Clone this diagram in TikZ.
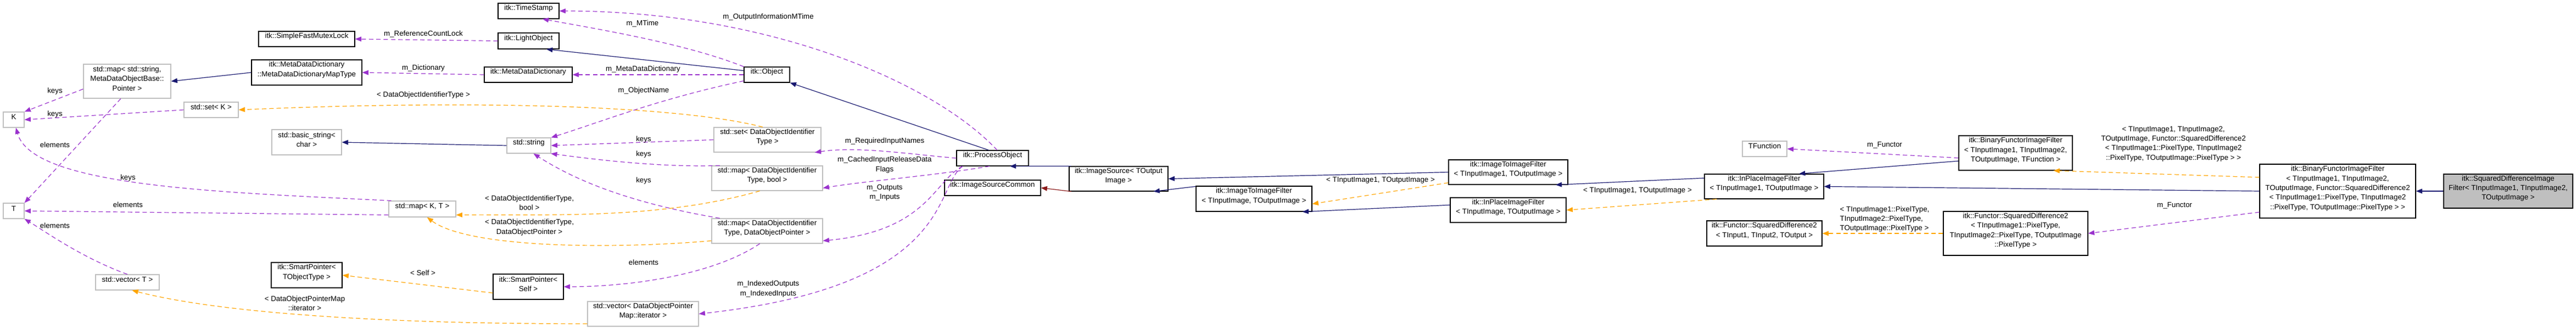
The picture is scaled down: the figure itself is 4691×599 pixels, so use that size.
\documentclass[tikz,border=0pt]{standalone}
\usepackage{fontspec}
\setmainfont{Liberation Sans}
\usetikzlibrary{fit,arrows.meta}
\definecolor{inhc}{HTML}{191970}
\definecolor{usec}{HTML}{9A32CD}
\definecolor{tmpc}{HTML}{FFA500}
\definecolor{redc}{HTML}{8B1A1A}
\definecolor{grayb}{HTML}{BFBFBF}
\definecolor{fillg}{HTML}{BFBFBF}
\newcommand\bx[7][]{\node[box,#1,fit={(#3,#4) (#5,#6)}] (#2) {#7};}
\begin{document}
\begin{tikzpicture}[x=0.75pt,y=-0.75pt,
  font=\fontsize{10}{13}\selectfont,
  box/.style={draw=black,line width=0.9pt,inner sep=0pt,align=center,fill=white},
  gb/.style={draw=grayb},
  lb/.style={align=left},
  lab/.style={inner sep=0pt,align=center},
  tip/.style={-{Triangle[length=8.5pt,width=6.5pt]}},
  inh/.style={tip,draw=inhc,line width=0.9pt},
  rd/.style={tip,draw=redc,line width=0.9pt},
  use/.style={tip,draw=usec,line width=0.9pt,dash pattern=on 6pt off 4pt},
  tmp/.style={tip,draw=tmpc,line width=0.9pt,dash pattern=on 6pt off 4pt}]
\useasboundingbox (0,0) rectangle (4691,599);
\fill[white] (0,0) rectangle (4691,599);
% nodes
\bx{sfm}{471}{57}{646}{85}{itk::SimpleFastMutexLock}
\bx[gb]{mapstr}{152}{117}{311}{179}{std::map< std::string,\\ MetaDataObjectBase::\\ Pointer >}
\bx{mapt}{458}{109}{659}{155}{itk::MetaDataDictionary\\::MetaDataDictionaryMapType}
\bx[gb]{setk}{335}{186}{434}{214}{std::set< K >}
\bx[gb]{bstr}{495}{236}{622}{282}{std::basic\_string<\\ char >}
\bx[gb]{K}{6}{204}{44}{232}{K}
\bx[gb]{T}{6}{370}{44}{398}{T}
\bx[gb]{vect}{174}{500}{290}{528}{std::vector< T >}
\bx{spt}{494}{478}{623}{524}{itk::SmartPointer<\\ TObjectType >}
\bx{ts}{907}{6}{1018}{34}{itk::TimeStamp}
\bx{light}{907}{60}{1018}{89}{itk::LightObject}
\bx{mdd}{882}{122}{1042}{150}{itk::MetaDataDictionary}
\bx[gb]{str}{923}{251}{1003}{279}{std::string}
\bx[gb]{mapkt}{708}{366}{830}{395}{std::map< K, T >}
\bx{sps}{898}{499}{1026}{545}{itk::SmartPointer<\\ Self >}
\bx[gb]{vecit}{1070}{549}{1272}{594}{std::vector< DataObjectPointer\\Map::iterator >}
\bx{object}{1355}{122}{1438}{150}{itk::Object}
\bx[gb]{set1}{1300}{232}{1495}{277}{std::set< DataObjectIdentifier\\Type >}
\bx[gb]{mapb}{1296}{302}{1498}{347}{std::map< DataObjectIdentifier\\Type, bool >}
\bx[gb]{mapp}{1296}{398}{1498}{443}{std::map< DataObjectIdentifier\\Type, DataObjectPointer >}
\bx{proc}{1742}{274}{1873}{302}{itk::ProcessObject}
\bx{isc}{1720}{328}{1895}{356}{itk::ImageSourceCommon}
\bx{isrc}{1947}{303}{2127}{348}{itk::ImageSource< TOutput\\Image >}
\bx[lb]{i2i}{2178}{339}{2389}{385}{itk::ImageToImageFilter\\< TInputImage, TOutputImage >}
\bx[lb]{i2i1}{2638}{291}{2855}{336}{itk::ImageToImageFilter\\< TInputImage1, TOutputImage >}
\bx[lb]{ip}{2641}{360}{2852}{405}{itk::InPlaceImageFilter\\< TInputImage, TOutputImage >}
\bx[gb]{tf}{3173}{257}{3254}{285}{TFunction}
\bx[lb]{ip1}{3104}{317}{3321}{362}{itk::InPlaceImageFilter\\< TInputImage1, TOutputImage >}
\bx{fs2}{3108}{402}{3318}{448}{itk::Functor::SquaredDifference2\\< TInput1, TInput2, TOutput >}
\bx{bf}{3567}{247}{3774}{310}{itk::BinaryFunctorImageFilter\\< TInputImage1, TInputImage2,\\ TOutputImage, TFunction >}
\bx{fsq}{3539}{385}{3802}{465}{itk::Functor::SquaredDifference2\\< TInputImage1::PixelType,\\ TInputImage2::PixelType, TOutputImage\\::PixelType >}
\bx{bf2}{4115}{299}{4399}{397}{itk::BinaryFunctorImageFilter\\< TInputImage1, TInputImage2,\\ TOutputImage, Functor::SquaredDifference2\\< TInputImage1::PixelType, TInputImage2\\::PixelType, TOutputImage::PixelType > >}
\bx[fill=fillg]{sd}{4450}{317}{4685}{379}{itk::SquaredDifferenceImage\\Filter< TInputImage1, TInputImage2,\\ TOutputImage >}
% inheritance
\draw[inh] (mapt.west) -- (mapstr.east);
\draw[inh] (object.170) -- (light.-25);
\draw[inh] (str.west) -- (bstr.east);
\draw[inh] (proc.115) -- (object.south east);
\draw[inh] (isrc.165) -- (proc.-25);
\draw[inh] (i2i.168) -- (isrc.-20);
\draw[inh] (i2i1.west) -- (isrc.east);
\draw[inh] (ip.175) -- (i2i.-15);
\draw[inh] (ip1.172) -- (i2i1.-15);
\draw[inh] (bf.-172) -- (ip1.20);
\draw[inh] (bf2.west) -- (ip1.east);
\draw[inh] (sd.west) -- (bf2.east);
\draw[rd] (isrc.-165) -- (isc.east);
% usage
\draw[use] (light.west) -- (sfm.east);
\node[lab] (l1) at (771,62) {m\_ReferenceCountLock};
\draw[use] (mdd.west) -- (mapt.east);
\node[lab] (l2) at (771,124) {m\_Dictionary};
\draw[use] (object.north west) .. controls (1250,80) and (1100,55) .. (ts.-30);
\node[lab] (l3) at (1170,43) {m\_MTime};
\draw[use] (proc.60) .. controls (1700,150) and (1400,20) .. (ts.east);
\node[lab] (l4) at (1399,31) {m\_OutputInformationMTime};
\draw[use] (object.west) -- (mdd.east);
\node[lab] (l5) at (1171,126) {m\_MetaDataDictionary};
\draw[use] (object.-165) .. controls (1200,180) and (1100,220) .. (str.north east);
\node[lab] (l6) at (1172,165) {m\_ObjectName};
\draw[use] (set1.west) -- (str.east);
\node[lab] (l7) at (1172,254) {keys};
\draw[use] (mapb.165) .. controls (1200,305) and (1080,290) .. (str.-20);
\node[lab] (l8) at (1172,281) {keys};
\draw[use] (mapp.165) .. controls (1150,370) and (1050,330) .. (str.-60);
\node[lab] (l9) at (1172,329) {keys};
\draw[use] (mapp.-120) .. controls (1300,500) and (1150,522) .. (sps.east);
\node[lab] (l10) at (1172,478) {elements};
\draw[use] (proc.west) .. controls (1650,280) and (1560,266) .. (set1.-15);
\node[lab] (l11) at (1611,257) {m\_RequiredInputNames};
\draw[use] (proc.-110) .. controls (1700,320) and (1580,329) .. (mapb.-10);
\node[lab] (l12) at (1611,300) {m\_CachedInputReleaseData\\Flags};
\draw[use] (proc.-165) .. controls (1700,330) and (1690,420) .. (mapp.-10);
\node[lab] (l13) at (1611,351) {m\_Outputs\\m\_Inputs};
\draw[use] (proc.-165) .. controls (1700,340) and (1740,520) .. (vecit.east);
\node[lab] (l14) at (1399,526) {m\_IndexedOutputs\\m\_IndexedInputs};
\draw[use] (mapstr.-170) -- (K.north east);
\node[lab] (l15) at (100,166) {keys};
\draw[use] (setk.west) -- (K.east);
\node[lab] (l16) at (100,208) {keys};
\draw[use] (mapkt.165) .. controls (400,350) and (60,340) .. (K.-75);
\node[lab] (l17) at (233,324) {keys};
\draw[use] (mapstr.-110) -- (T.north east);
\node[lab] (l18) at (100,264) {elements};
\draw[use] (mapkt.-170) -- (T.east);
\node[lab] (l19) at (233,373) {elements};
\draw[use] (vect.north) .. controls (150,470) and (80,420) .. (T.south east);
\node[lab] (l20) at (100,411) {elements};
\draw[use] (bf.-175) -- (tf.east);
\node[lab] (l21) at (3432,264) {m\_Functor};
\draw[use] (bf2.-165) -- (fsq.east);
\node[lab] (l22) at (3960,374) {m\_Functor};
% template
\draw[tmp] (set1.110) .. controls (1250,195) and (900,180) .. (setk.east);
\node[lab] (l23) at (771,173) {< DataObjectIdentifierType >};
\draw[tmp] (mapb.-120) .. controls (1200,400) and (1000,390) .. (mapkt.-10);
\node[lab] (l24) at (964,369) {< DataObjectIdentifierType,\\bool >};
\draw[tmp] (mapp.-170) .. controls (1100,455) and (850,450) .. (mapkt.-60);
\node[lab] (l25) at (964,414) {< DataObjectIdentifierType,\\DataObjectPointer >};
\draw[tmp] (vecit.-170) .. controls (700,590) and (400,570) .. (vect.-60);
\node[lab] (l26) at (555,552) {< DataObjectPointerMap\\::iterator >};
\draw[tmp] (sps.-170) -- (spt.east);
\node[lab] (l27) at (770,497) {< Self >};
\draw[tmp] (i2i1.-170) -- (i2i.-5);
\node[lab] (l28) at (2514,328) {< TInputImage1, TOutputImage >};
\draw[tmp] (ip1.-165) -- (ip.east);
\node[lab] (l29) at (2982,347) {< TInputImage1, TOutputImage >};
\draw[tmp] (bf2.170) -- (bf.-25);
\node[lab] (l30) at (3958,262) {< TInputImage1, TInputImage2,\\TOutputImage, Functor::SquaredDifference2\\< TInputImage1::PixelType, TInputImage2\\::PixelType, TOutputImage::PixelType > >};
\draw[tmp] (fsq.west) -- (fs2.east);
\node[lab,align=left] (l31) at (3432,399) {< TInputImage1::PixelType,\\TInputImage2::PixelType,\\TOutputImage::PixelType >};
\end{tikzpicture}
\end{document}
